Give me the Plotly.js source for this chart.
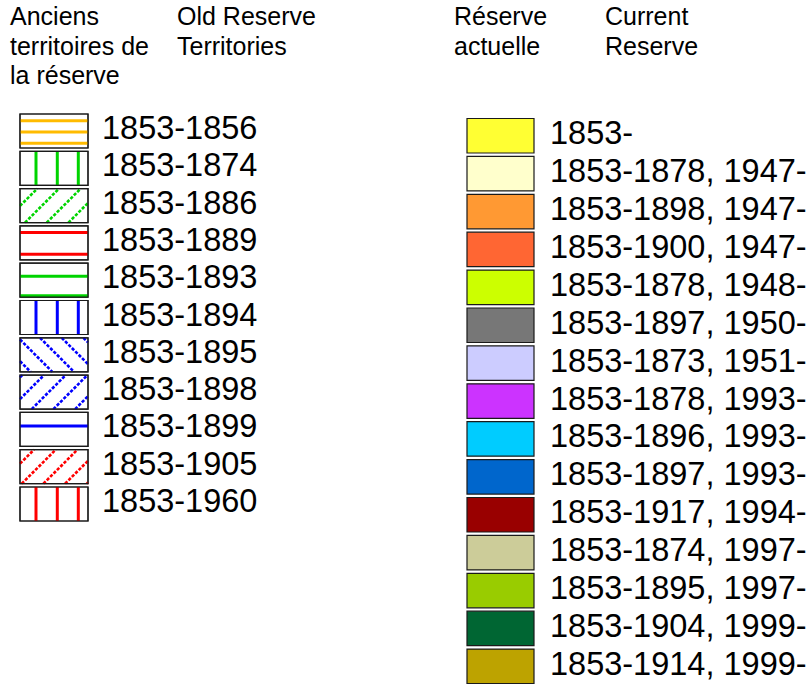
<!DOCTYPE html>
<html>
<head>
<meta charset="utf-8">
<script src="https://cdn.plot.ly/plotly-3.0.1.min.js"></script>
<style>html,body{margin:0;padding:0;background:#fff;}#chart{width:811px;height:684px;}</style>
</head>
<body>
<div id="chart"></div>
<script>
// ---- data ----
const oldHeaderFr = ["Anciens", "territoires de", "la réserve"];
const oldHeaderEn = ["Old Reserve", "Territories"];
const curHeaderFr = ["Réserve", "actuelle"];
const curHeaderEn = ["Current", "Reserve"];

const oldLabels = ["1853-1856", "1853-1874", "1853-1886", "1853-1889", "1853-1893", "1853-1894",
                   "1853-1895", "1853-1898", "1853-1899", "1853-1905", "1853-1960"];
const oldColors = ["#ffbb00", "#00d400", "#00d400", "#ff0000", "#00d400", "#0000ff",
                   "#0000ff", "#0000ff", "#0000ff", "#ff0000", "#ff0000"];
const oldHatch  = ["h3", "v", "fwd", "h2", "h1b", "v", "back", "fwd", "h1", "fwd", "v"];

const curLabels = ["1853-", "1853-1878, 1947-", "1853-1898, 1947-", "1853-1900, 1947-", "1853-1878, 1948-",
                   "1853-1897, 1950-", "1853-1873, 1951-", "1853-1878, 1993-", "1853-1896, 1993-",
                   "1853-1897, 1993-", "1853-1917, 1994-", "1853-1874, 1997-", "1853-1895, 1997-",
                   "1853-1904, 1999-", "1853-1914, 1999-"];
const curColors = ["#ffff33", "#ffffcc", "#ff9933", "#ff6633", "#ccff00", "#777777", "#ccccff",
                   "#cc33ff", "#00ccff", "#0066cc", "#990000", "#cccc99", "#99cc00", "#006633", "#bda300"];

// ---- layout constants ----
const FONT = "Liberation Sans, Arial, sans-serif";
const L = {x0: 20, x1: 88, top0: 114, pitch: 37.3, h: 34, tx: 100};
const R = {x0: 467, x1: 534, top0: 118.5, pitch: 37.9, h: 34.5, tx: 548};

const shapes = [];
const annotations = [];

function line(xa, ya, xb, yb, color, width, dash) {
  shapes.push({type: "line", xref: "x", yref: "y", x0: xa, y0: ya, x1: xb, y1: yb,
               line: {color: color, width: width, dash: dash || "solid"}});
}
function rect(x0, y0, x1, y1, fill) {
  shapes.push({type: "rect", xref: "x", yref: "y", x0: x0, y0: y0, x1: x1, y1: y1,
               fillcolor: fill, line: {color: "#1a1a1a", width: 1.2}});
}
function hLines(x0, x1, top, offs, color) {
  offs.forEach(o => line(x0, top + o, x1, top + o, color, 3));
}
function vLines(x0, top, bot, offs, color) {
  offs.forEach(o => line(x0 + o, top, x0 + o, bot, color, 3));
}
function diag(x0, x1, top, bot, phase, dir, color) {
  const h = bot - top, sp = 21.7;
  for (let k = -4; k < 6; k++) {
    const xs = x0 + phase + k * sp;
    const t0 = Math.max(0, x0 - xs), t1 = Math.min(h, x1 - xs);
    if (t1 - t0 < 1) continue;
    if (dir === "fwd") line(xs + t0, bot - t0, xs + t1, bot - t1, color, 2.6, "3.2px,1.6px");
    else line(xs + t0, top + t0, xs + t1, top + t1, color, 2.6, "3.2px,1.6px");
  }
}
const fwdPhase = {2: 5, 7: 11.7, 9: 1.7};

oldLabels.forEach((lab, i) => {
  const top = L.top0 + i * L.pitch, bot = top + L.h, c = oldColors[i];
  rect(L.x0, top, L.x1, bot, "#ffffff");
  switch (oldHatch[i]) {
    case "h3": hLines(L.x0, L.x1, top, [6.7, 18, 29.3], c); break;
    case "h2": hLines(L.x0, L.x1, top, [6.7, 28.3], c); break;
    case "h1b": hLines(L.x0, L.x1, top, [13, 32.6], c); break;
    case "h1": hLines(L.x0, L.x1, top, [13.5], c); break;
    case "v": vLines(L.x0, top, bot, [16, 37.3, 58.3], c); break;
    case "fwd": diag(L.x0, L.x1, top, bot, fwdPhase[i], "fwd", c); break;
    case "back": diag(L.x0, L.x1, top, bot, -1.7, "back", c); break;
  }
  shapes.push({type: "rect", xref: "x", yref: "y", x0: L.x0, y0: top, x1: L.x1, y1: bot,
               fillcolor: "rgba(0,0,0,0)", line: {color: "#1a1a1a", width: 1.2}});
  annotations.push({x: L.tx, y: top + L.h / 2 - 3, xref: "x", yref: "y", text: lab, showarrow: false,
                    xanchor: "left", yanchor: "middle", font: {family: FONT, size: 32.5, color: "#000"}});
});

curLabels.forEach((lab, i) => {
  const top = R.top0 + i * R.pitch, bot = top + R.h;
  rect(R.x0, top, R.x1, bot, curColors[i]);
  annotations.push({x: R.tx, y: top + R.h / 2 - 2.5, xref: "x", yref: "y", text: lab, showarrow: false,
                    xanchor: "left", yanchor: "middle", font: {family: FONT, size: 32.5, color: "#000"}});
});

function header(lines, x, y0, pitch) {
  lines.forEach((t, j) => annotations.push({x: x, y: y0 + j * pitch, xref: "x", yref: "y", text: t,
    showarrow: false, xanchor: "left", yanchor: "middle", font: {family: FONT, size: 25, color: "#000"}}));
}
header(oldHeaderFr, 8, 16.3, 29.2);
header(oldHeaderEn, 175, 16.3, 29.2);
header(curHeaderFr, 452, 16.3, 30);
header(curHeaderEn, 603, 16.3, 30);

const layout = {
  width: 811, height: 684,
  margin: {l: 0, r: 0, t: 0, b: 0},
  paper_bgcolor: "#ffffff", plot_bgcolor: "#ffffff",
  showlegend: false,
  xaxis: {range: [0, 811], visible: false, fixedrange: true},
  yaxis: {range: [684, 0], visible: false, fixedrange: true},
  shapes: shapes,
  annotations: annotations
};
Plotly.newPlot("chart", [], layout, {staticPlot: true, displayModeBar: false});
</script>
</body>
</html>
